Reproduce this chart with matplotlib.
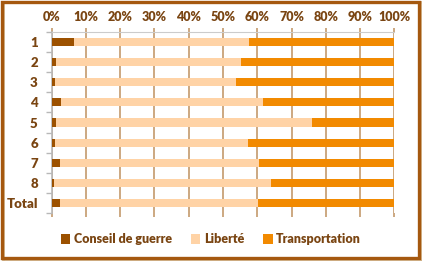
import matplotlib
matplotlib.use("Agg")
import matplotlib.pyplot as plt
from matplotlib.patches import Rectangle
import numpy as np

categories = ['1', '2', '3', '4', '5', '6', '7', '8', 'Total']
conseil = [6.5, 1.4, 1.1, 2.6, 1.4, 1.1, 2.3, 0.8, 2.3]
liberte_cum = [57.6, 55.2, 53.8, 61.7, 75.9, 57.3, 60.5, 63.9, 60.1]
liberte = [l - c for l, c in zip(liberte_cum, conseil)]
transport = [100 - l for l in liberte_cum]
series_names = ['Conseil de guerre', 'Libert\u00e9', 'Transportation']
colors = ['#9c5100', '#ffd3a6', '#f28a00']

plt.rcParams['font.family'] = ['Lato', 'DejaVu Sans']
label_color = '#7a4512'

fig = plt.figure(figsize=(4.22, 2.61), dpi=100)
ax = fig.add_axes([0.1225, 0.1828, 0.9344 - 0.1225, 0.8785 - 0.1828])

y = np.arange(len(categories))
left = np.zeros(len(categories))
for vals, name, col in zip([conseil, liberte, transport], series_names, colors):
    ax.barh(y, vals, left=left, height=0.4, color=col, label=name, zorder=3)
    left += np.array(vals)

ax.set_xlim(0, 100)
ax.set_ylim(len(categories) - 0.5, -0.5)
ax.set_xticks(np.arange(0, 101, 10))
ax.set_xticklabels(['%d%%' % v for v in range(0, 101, 10)])
ax.xaxis.tick_top()
ax.set_yticks(y)
ax.set_yticklabels(categories)
ax.set_yticks(np.arange(-0.5, len(categories), 1), minor=True)

ax.grid(axis='x', color='#c49a6c', linewidth=1.2, zorder=1)
ax.tick_params(axis='x', which='both', top=True, bottom=True, length=3,
               color='#c49a6c', width=1.2, labelsize=9, labelcolor=label_color, pad=3)
ax.tick_params(axis='y', which='major', length=0, labelsize=9.5, labelcolor=label_color, pad=10)
ax.tick_params(axis='y', which='minor', length=4, color='#b8b8b8', width=1)
for lab in ax.get_xticklabels() + ax.get_yticklabels():
    lab.set_fontweight('heavy')

for s in ['right', 'bottom']:
    ax.spines[s].set_visible(False)
ax.spines['left'].set_color('#b8b8b8')
ax.spines['top'].set_color('#cccccc')
ax.spines['left'].set_linewidth(1.2)

leg = fig.legend(loc='center', bbox_to_anchor=(0.5, 0.083), ncol=3, frameon=False,
                 handlelength=0.75, handleheight=0.75, handletextpad=0.3, columnspacing=1.5,
                 prop={'size': 9, 'weight': 'heavy'})
for t in leg.get_texts():
    t.set_color(label_color)

# outer border with shadow
fig.patches.append(Rectangle((0.006, 0.0), 0.994, 0.992, transform=fig.transFigure,
                             facecolor='none', edgecolor='#d2b48c', linewidth=2))
fig.patches.append(Rectangle((0.004, 0.012), 0.99, 0.982, transform=fig.transFigure,
                             facecolor='none', edgecolor='#a5580f', linewidth=2.4))

fig.savefig('out.png', dpi=100)
